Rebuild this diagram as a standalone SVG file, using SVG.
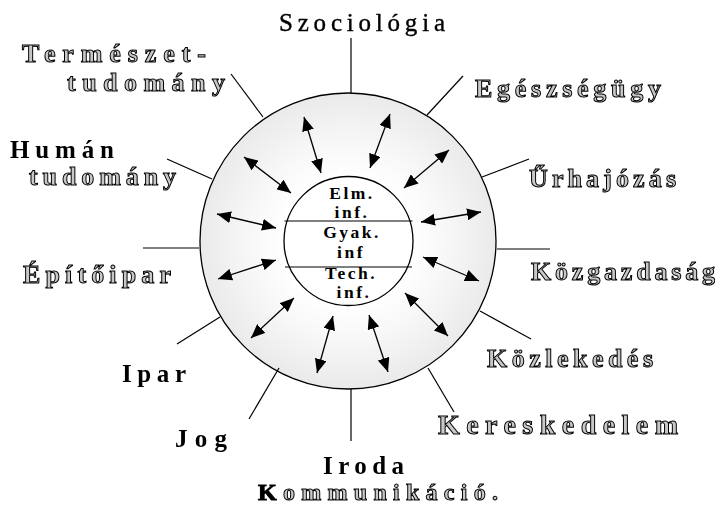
<svg xmlns="http://www.w3.org/2000/svg" width="720" height="506" viewBox="0 0 720 506">
<defs>
<radialGradient id="ring" cx="348" cy="241" r="148" gradientUnits="userSpaceOnUse">
<stop offset="0.43" stop-color="#ffffff"/>
<stop offset="0.65" stop-color="#f8f8f8"/>
<stop offset="1" stop-color="#eaeaea"/>
</radialGradient>
<filter id="flat" x="0" y="0" width="1" height="1"><feOffset dx="0" dy="0"/></filter>
<marker id="ah" viewBox="0 0 14 12" refX="14" refY="6" markerWidth="14" markerHeight="12" markerUnits="userSpaceOnUse" orient="auto-start-reverse">
<path d="M0,0 L14,6 L0,12 z" fill="#000"/>
</marker>
<style>
.lbl{filter:url(#flat);}
.o{fill:#c8c8c8;stroke:#000;stroke-width:1;font-weight:bold;font-size:26px;}
.r{fill:#000;stroke:#000;stroke-width:0.4;font-size:25px;}
.b{fill:#000;font-weight:bold;font-size:25px;}
.in{fill:#000;font-weight:bold;font-size:17.5px;text-anchor:middle;letter-spacing:2.5px;}
.sp{stroke:#000;stroke-width:1.2;fill:none;}
.ar{stroke:#000;stroke-width:1.3;fill:none;marker-start:url(#ah);marker-end:url(#ah);}
</style>
</defs>
<g id="outer-ring">
<circle cx="348" cy="241" r="148" fill="url(#ring)" stroke="#000" stroke-width="1.3"/>
</g>
<g id="connectors">
<line class="sp" x1="351" y1="38" x2="351" y2="93"/>
<line class="sp" x1="463" y1="76" x2="427" y2="115"/>
<line class="sp" x1="529" y1="159" x2="482" y2="177"/>
<line class="sp" x1="497" y1="249" x2="550" y2="249"/>
<line class="sp" x1="480" y1="311" x2="531" y2="339"/>
<line class="sp" x1="428" y1="368" x2="454" y2="412"/>
<line class="sp" x1="351" y1="389" x2="351" y2="441"/>
<line class="sp" x1="279" y1="368" x2="249" y2="419"/>
<line class="sp" x1="220" y1="317" x2="177" y2="344"/>
<line class="sp" x1="199" y1="248" x2="143" y2="248"/>
<line class="sp" x1="212" y1="179" x2="167" y2="159"/>
<line class="sp" x1="263" y1="117" x2="231" y2="74"/>
<line class="ar" x1="304" y1="117" x2="321" y2="173"/>
<line class="ar" x1="244" y1="157" x2="291" y2="193"/>
<line class="ar" x1="217" y1="214" x2="276" y2="228"/>
<line class="ar" x1="390" y1="114" x2="370" y2="168"/>
<line class="ar" x1="449" y1="150" x2="404" y2="188"/>
<line class="ar" x1="421" y1="222" x2="481" y2="212"/>
<line class="ar" x1="218" y1="279" x2="276" y2="260"/>
<line class="ar" x1="251" y1="338" x2="294" y2="298"/>
<line class="ar" x1="333" y1="316" x2="317" y2="373"/>
<line class="ar" x1="423" y1="257" x2="479" y2="281"/>
<line class="ar" x1="405" y1="293" x2="448" y2="336"/>
<line class="ar" x1="369" y1="315" x2="388" y2="372"/>
</g>
<g font-family="'Liberation Serif', 'DejaVu Serif', serif">
<g id="core">
<circle cx="348.5" cy="241" r="64.5" fill="#fff" stroke="#000" stroke-width="1.3"/>
<line x1="284.5" y1="221" x2="412.5" y2="221" class="sp"/>
<line x1="285" y1="267" x2="412" y2="267" class="sp"/>
<text class="in" x="352" y="199">Elm.</text>
<text class="in" x="352" y="218">inf.</text>
<text class="in" x="352" y="238">Gyak.</text>
<text class="in" x="351" y="258">inf</text>
<text class="in" x="351" y="279">Tech.</text>
<text class="in" x="354" y="298">inf.</text>
</g>
<g class="lbl">
<g id="szociologia"><text class="r" x="279" y="31" textLength="166" lengthAdjust="spacing">Szociológia</text></g>
<g id="termeszettudomany">
<text class="o" x="22" y="62" textLength="184" lengthAdjust="spacing">Természet-</text>
<text class="o" x="67" y="91" textLength="158" lengthAdjust="spacing">tudomány</text>
</g>
<g id="egeszsegugy"><text class="o" x="475" y="97" textLength="186" lengthAdjust="spacing">Egészségügy</text></g>
<g id="humantudomany">
<text class="b" x="10" y="158" textLength="104" lengthAdjust="spacing">Humán</text>
<text class="o" x="29" y="185" textLength="147" lengthAdjust="spacing">tudomány</text>
</g>
<g id="urhajozas"><text class="o" x="529" y="187" textLength="147" lengthAdjust="spacing">Űrhajózás</text></g>
<g id="epitoipar"><text class="o" x="23" y="283" textLength="148" lengthAdjust="spacing">Építőipar</text></g>
<g id="kozgazdasag"><text class="o" x="531" y="280" textLength="184" lengthAdjust="spacing">Közgazdaság</text></g>
<g id="kozlekedes"><text class="o" x="487" y="367" textLength="166" lengthAdjust="spacing">Közlekedés</text></g>
<g id="ipar"><text class="b" x="122" y="382" textLength="64" lengthAdjust="spacing">Ipar</text></g>
<g id="kereskedelem"><text class="o" x="438" y="434" style="font-size:28px" textLength="240" lengthAdjust="spacing">Kereskedelem</text></g>
<g id="jog"><text class="b" x="175" y="447" textLength="52" lengthAdjust="spacing">Jog</text></g>
<g id="iroda-kommunikacio">
<text class="b" x="323" y="474" textLength="81" lengthAdjust="spacing">Iroda</text>
<text class="o" x="258" y="500" style="font-size:24px" textLength="240" lengthAdjust="spacing"><tspan style="fill:#000">K</tspan>ommunikáció.</text>
</g>
</g>
</g>
</svg>
